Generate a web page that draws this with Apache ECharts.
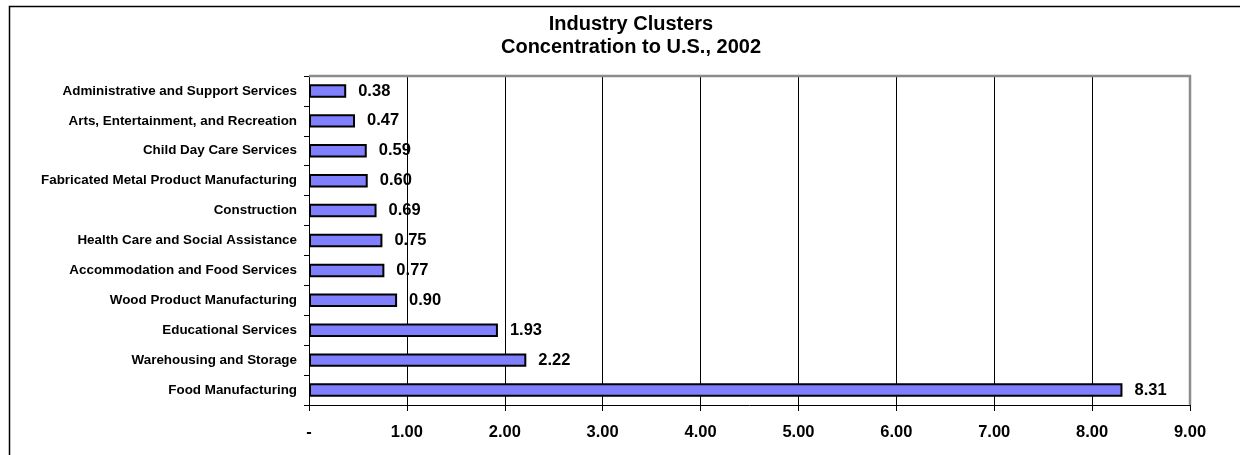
<!DOCTYPE html>
<html>
<head>
<meta charset="utf-8">
<script src="https://cdn.jsdelivr.net/npm/echarts@6/dist/echarts.min.js"></script>
<style>
html,body{margin:0;padding:0;background:#fff;}
#chart{width:1240px;height:455px;}
</style>
</head>
<body>
<div id="chart"></div>
<script>
// Industry clusters, bottom to top as drawn on the category axis
const industries = [
  'Food Manufacturing',
  'Warehousing and Storage',
  'Educational Services',
  'Wood Product Manufacturing',
  'Accommodation and Food Services',
  'Health Care and Social Assistance',
  'Construction',
  'Fabricated Metal Product Manufacturing',
  'Child Day Care Services',
  'Arts, Entertainment, and Recreation',
  'Administrative and Support Services'
];
const concentration = [8.31, 2.22, 1.93, 0.90, 0.77, 0.75, 0.69, 0.60, 0.59, 0.47, 0.38];
const xTicks = ['-', '1.00', '2.00', '3.00', '4.00', '5.00', '6.00', '7.00', '8.00', '9.00'];

const font = 'Liberation Sans, Arial, sans-serif';
const chart = echarts.init(document.getElementById('chart'));

chart.setOption({
  animation: false,
  backgroundColor: '#fff',
  title: {
    text: 'Industry Clusters\nConcentration to U.S., 2002',
    left: 626,
    top: 8,
    textAlign: 'center',
    textStyle: { fontFamily: font, fontSize: 20, fontWeight: 'bold', color: '#000', lineHeight: 23 }
  },
  graphic: [
    {
      // outer chart frame
      type: 'polyline',
      shape: { points: [[9.5, 460], [9.5, 6.5], [1245, 6.5]] },
      style: { stroke: '#000', lineWidth: 1.5, fill: null }
    },
    {
      // plot-area border on top and right
      type: 'polyline',
      shape: { points: [[309, 76], [1190, 76], [1190, 405]] },
      style: { stroke: '#8c8c8c', lineWidth: 2.5, fill: null },
      z: 10
    }
  ],
  grid: { left: 309, right: 50, top: 76, bottom: 50, containLabel: false },
  xAxis: {
    type: 'value',
    min: 0,
    max: 9,
    interval: 1,
    axisLine: { show: true, lineStyle: { color: '#000', width: 1 } },
    axisTick: { show: true, length: 6, lineStyle: { color: '#000' } },
    splitLine: { show: true, lineStyle: { color: '#000', width: 1 } },
    axisLabel: {
      margin: 19,
      fontFamily: font, fontSize: 16.5, fontWeight: 'bold', color: '#000',
      formatter: v => xTicks[Math.round(v)]
    }
  },
  yAxis: {
    type: 'category',
    data: industries,
    axisLine: { show: true, lineStyle: { color: '#000', width: 1 } },
    axisTick: { show: true, length: 5, lineStyle: { color: '#000' } },
    axisLabel: {
      margin: 12,
      fontFamily: font, fontSize: 13.4, fontWeight: 'bold', color: '#000'
    }
  },
  series: [{
    type: 'bar',
    data: concentration,
    barWidth: '45%',
    itemStyle: { color: '#8080ff', borderColor: '#000', borderWidth: 2 },
    label: {
      show: true,
      position: 'right',
      distance: 12,
      fontFamily: font, fontSize: 16.5, fontWeight: 'bold', color: '#000',
      formatter: p => p.value.toFixed(2)
    },
    z: 3
  }]
});
</script>
</body>
</html>
